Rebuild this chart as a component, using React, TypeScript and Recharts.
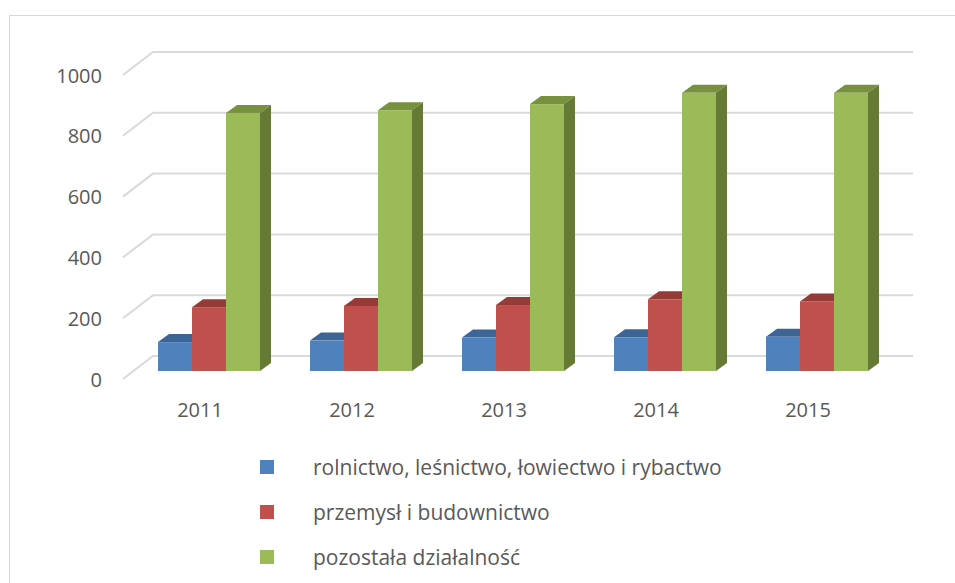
import React from 'react';
import { BarChart, Bar, XAxis, YAxis, CartesianGrid } from 'recharts';

const years = ['2011', '2012', '2013', '2014', '2015'];
const rolnictwo = [95, 100, 110, 111, 113];
const przemysl = [210, 214, 217, 236, 229];
const pozostala = [849, 858, 878, 915, 915];
const yTicks = [0, 200, 400, 600, 800, 1000];

const seriesNames = [
  'rolnictwo, leśnictwo, łowiectwo i rybactwo',
  'przemysł i budownictwo',
  'pozostała działalność',
];

const data = years.map((year, i) => ({
  year,
  rol: rolnictwo[i],
  prz: przemysl[i],
  poz: pozostala[i],
}));

const FONT = '"Open Sans", sans-serif';
const TEXT = '#595959';

// floor depth of the 3D box and depth of each bar
const WALL_DX = 30;
const WALL_DY = -23;
const BAR_SHIFT_X = 10;
const BAR_SHIFT_Y = -8;
const BAR_DX = 11;
const BAR_DY = -8;

const makeBar = (front: string, top: string, side: string) => (props: any) => {
  const { x, y, width, height } = props;
  if (width == null || height == null) return null;
  const fx = x + BAR_SHIFT_X;
  const fy = y + BAR_SHIFT_Y;
  return (
    <g>
      <polygon
        points={`${fx},${fy} ${fx + BAR_DX},${fy + BAR_DY} ${fx + width + BAR_DX},${fy + BAR_DY} ${fx + width},${fy}`}
        fill={top}
      />
      <polygon
        points={`${fx + width},${fy} ${fx + width + BAR_DX},${fy + BAR_DY} ${fx + width + BAR_DX},${fy + height + BAR_DY} ${fx + width},${fy + height}`}
        fill={side}
      />
      <rect x={fx} y={fy} width={width} height={height} fill={front} />
    </g>
  );
};

const gridLine = (props: any) => {
  const { x1, y1, x2 } = props;
  return (
    <polyline
      key={`g-${y1}`}
      points={`${x1},${y1} ${x1 + WALL_DX},${y1 + WALL_DY} ${x2 + WALL_DX},${y1 + WALL_DY}`}
      fill="none"
      stroke="#d9d9d9"
      strokeWidth={2}
    />
  );
};

const YTick = (props: any) => {
  const { y, payload } = props;
  return (
    <text x={102} y={y} textAnchor="end" dominantBaseline="central" fill={TEXT} fontSize={20} fontFamily={FONT}>
      {payload.value}
    </text>
  );
};

const XTick = (props: any) => {
  const { x, payload } = props;
  return (
    <text x={x + 1} y={417} textAnchor="middle" fill={TEXT} fontSize={20} fontFamily={FONT}>
      {payload.value}
    </text>
  );
};

const legendColors = ['#4f81bd', '#c0504d', '#9bbb59'];

export default function App() {
  return (
    <div style={{ position: 'absolute', left: 0, top: 0, width: 955, height: 583, background: '#fff', overflow: 'hidden' }}>
      <div style={{ position: 'absolute', left: 9, top: 15, width: 960, height: 600, border: '1.5px solid #d9d9d9' }} />
      <div style={{ position: 'absolute', left: 0, top: 0 }}>
        <BarChart
          width={955}
          height={583}
          data={data}
          margin={{ top: 75, right: 72, bottom: 174, left: 63 }}
          barSize={34}
          barGap={0}
        >
          <CartesianGrid vertical={false} horizontal={gridLine} />
          <XAxis dataKey="year" axisLine={false} tickLine={false} tick={XTick} interval={0} height={30} />
          <YAxis domain={[0, 1000]} ticks={yTicks} axisLine={false} tickLine={false} tick={YTick} width={60} />
          <Bar dataKey="rol" name={seriesNames[0]} isAnimationActive={false} shape={makeBar('#4f81bd', '#3c6595', '#385d8a')} />
          <Bar dataKey="prz" name={seriesNames[1]} isAnimationActive={false} shape={makeBar('#c0504d', '#943a37', '#8c3836')} />
          <Bar dataKey="poz" name={seriesNames[2]} isAnimationActive={false} shape={makeBar('#9bbb59', '#77913f', '#667a36')} />
        </BarChart>
      </div>
      {seriesNames.map((name, i) => (
        <div key={name} style={{ position: 'absolute', left: 260, top: 460 + 45 * i, height: 14, display: 'flex', alignItems: 'center' }}>
          <span style={{ width: 14, height: 14, background: legendColors[i], display: 'inline-block', flexShrink: 0 }} />
          <span style={{ marginLeft: 39, color: TEXT, fontSize: 21, fontFamily: FONT, whiteSpace: 'nowrap' }}>{name}</span>
        </div>
      ))}
    </div>
  );
}
